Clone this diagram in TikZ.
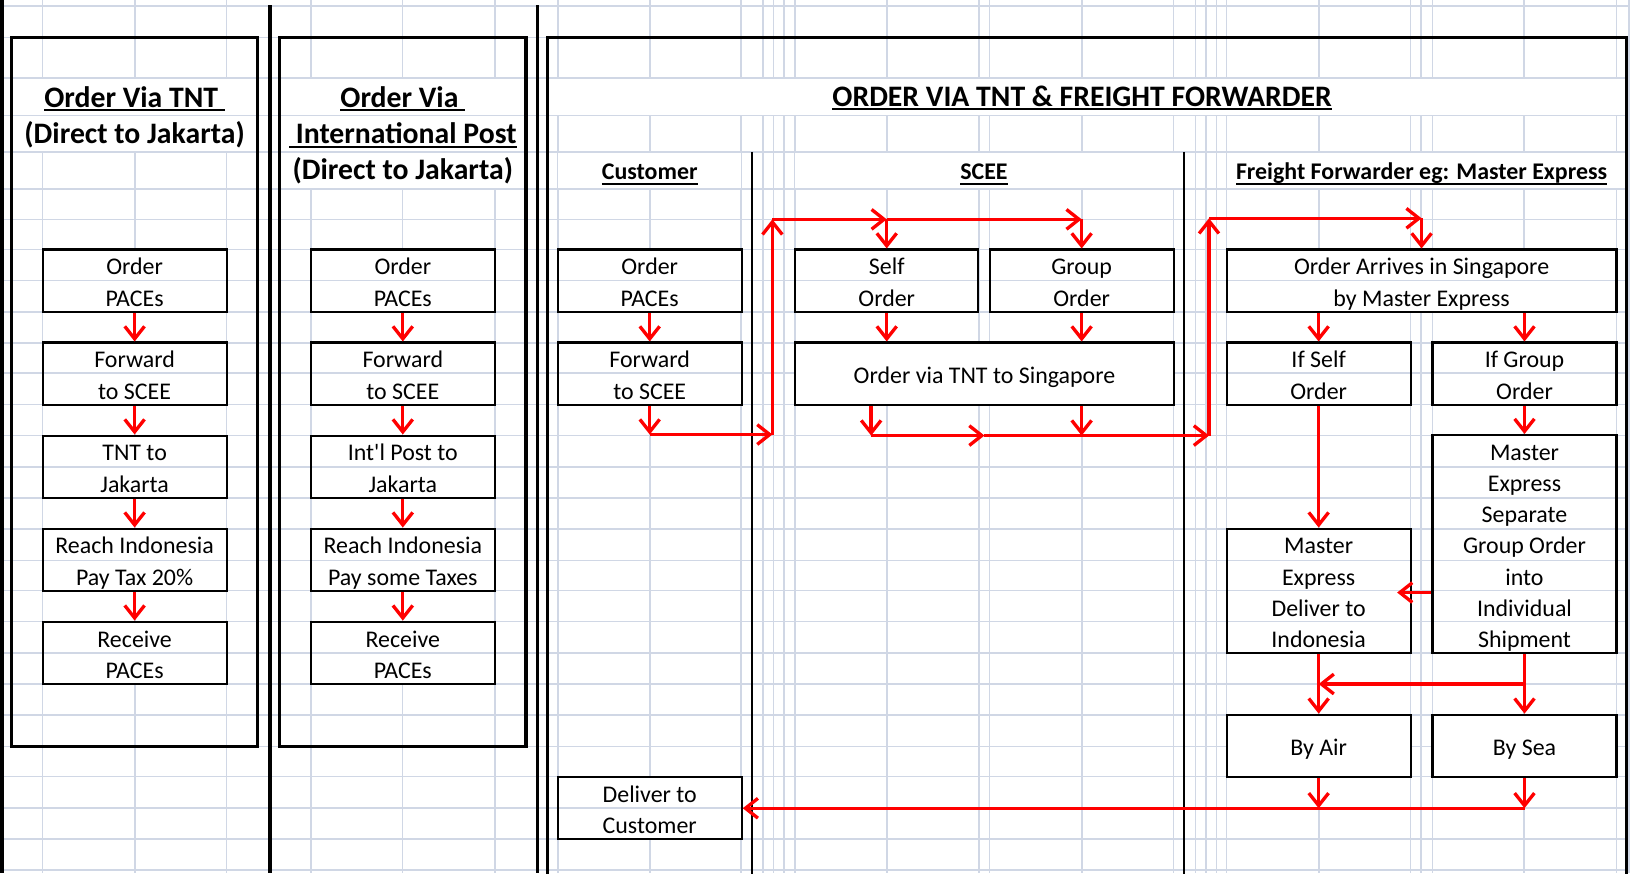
\documentclass[tikz,border=0pt]{standalone}
\usepackage{fontspec}
\setmainfont{Carlito}
\newfontfamily\rawfont{Carlito}
\usetikzlibrary{arrows.meta}
\pgfdeclarelayer{bg}\pgfdeclarelayer{wh}\pgfdeclarelayer{hg}\pgfdeclarelayer{wht}
\pgfsetlayers{bg,wh,hg,wht,main}
\definecolor{gridc}{RGB}{208,215,229}
\newcommand\xst{\rule[-2.8pt]{0pt}{15pt}}
\newsavebox\ulbox
\newcommand\myul[3]{\sbox\ulbox{#3}\rlap{\rule[-#1]{\wd\ulbox}{#2}}\usebox\ulbox}
\begin{document}
\begin{tikzpicture}[x=0.5pt,y=-0.5pt,
  box/.style={draw, line width=1pt, inner sep=0pt, align=center, font=\fontsize{11.5}{15}\selectfont, minimum width=88.5pt, minimum height=30pt},
  arr/.style={draw=red, line width=1.6pt, -{Straight Barb[length=6pt,width=9.5pt]}},
  ttl/.style={anchor=base, inner sep=0pt, font=\fontsize{14.3}{17}\selectfont\bfseries},
  hdr/.style={anchor=base, inner sep=0pt, font=\fontsize{11.5}{14}\selectfont\bfseries},
  heavy/.style={line width=1.75pt},
  frame/.style={line width=1.5pt},
  lane/.style={line width=0.75pt},
  gline/.style={draw=gridc, line width=0.75pt}]
\useasboundingbox (0,0) rectangle (1568,840);
\begin{pgfonlayer}{bg}
\fill[white] (0,0) rectangle (1568,840);
\foreach \gx in {41,130,218,299,387,476,537,625,713,734,744,754,765,853,942,952,1041,1129,1150,1160,1170,1180,1269,1357,1367,1378,1466,1555,1567}
  \draw[gline] (\gx,0) -- (\gx,840);
\end{pgfonlayer}
\begin{pgfonlayer}{hg}
\foreach \gy in {6,36,75,111,146,182,211,240,270,300,330,359,389,419,449,479,509,539,568,598,628,658,688,718,747,777,807,837}
  \draw[gline] (0,\gy) -- (1568,\gy);
\end{pgfonlayer}

% structure lines
\draw[line width=2pt] (2,0) -- (2,840);
\draw[heavy] (260,5) -- (260,840);
\draw[heavy] (517,5) -- (517,840);
\draw[frame] (11,36) rectangle (248,718);
\draw[frame] (269,36) rectangle (506,718);
\draw[frame] (527,845) -- (527,36) -- (1565,36) -- (1565,845);
\draw[lane] (723.5,146) -- (723.5,845);
\draw[lane] (1139,146) -- (1139,845);

% titles
\node[ttl] (t1a) at (129.5,103) {\myul{2.1pt}{1.1pt}{Order Via TNT\ }};
\node[ttl] (t1b) at (129.5,138) {(Direct to Jakarta)};
\node[ttl] (t2a) at (387.5,103) {\myul{2.1pt}{1.1pt}{Order Via\ }};
\node[ttl] (t2b) at (387.5,138.5) {\myul{2.1pt}{1.1pt}{\ International Post}};
\node[ttl] (t2c) at (387.5,173) {(Direct to Jakarta)};
\node[ttl] (t3) at (1041,102) {\myul{2.1pt}{1.1pt}{ORDER VIA TNT \& FREIGHT FORWARDER}};
\node[hdr] (h1) at (625,173) {\myul{2.4pt}{0.9pt}{Customer}};
\node[hdr] (h2) at (946.5,173) {\myul{2.4pt}{0.9pt}{SCEE}};
\node[hdr] (h3) at (1367.5,173) {\myul{2.4pt}{0.9pt}{Freight Forwarder eg: Master Express}};

% column 1
\node[box] (a1) at (129.5,270) {\xst Order\\\xst PACEs};
\node[box] (a2) at (129.5,359.5) {\xst Forward\\\xst to SCEE};
\node[box] (a3) at (129.5,449) {\xst TNT to\\\xst Jakarta};
\node[box] (a4) at (129.5,538.5) {\xst Reach Indonesia\\\xst Pay Tax 20\%};
\node[box] (a5) at (129.5,628) {\xst Receive\\\xst PACEs};
% column 2
\node[box] (b1) at (387.5,270) {\xst Order\\\xst PACEs};
\node[box] (b2) at (387.5,359.5) {\xst Forward\\\xst to SCEE};
\node[box] (b3) at (387.5,449) {\xst Int{\rawfont'}l Post to\\\xst Jakarta};
\node[box] (b4) at (387.5,538.5) {\xst Reach Indonesia\\\xst Pay some Taxes};
\node[box] (b5) at (387.5,628) {\xst Receive\\\xst PACEs};
% customer
\node[box] (c1) at (625,270) {\xst Order\\\xst PACEs};
\node[box] (c2) at (625,359.5) {\xst Forward\\\xst to SCEE};
\node[box] (c3) at (625,777.5) {\xst Deliver to\\\xst Customer};
% SCEE
\node[box, minimum width=88pt] (s1) at (853,270) {\xst Self\\\xst Order};
\node[box] (s2) at (1040.5,270) {\xst Group\\\xst Order};
\node[box, minimum width=182pt] (s3) at (947,359.5) {\xst Order via TNT to Singapore};
% freight forwarder
\node[box, minimum width=187.5pt] (m1) at (1367.5,270) {\xst Order Arrives in Singapore\\\xst by Master Express};
\node[box] (m2) at (1268.5,359.5) {\xst If Self\\\xst Order};
\node[box] (m3) at (1466.5,359.5) {\xst If Group\\\xst Order};
\node[box, minimum height=104.5pt] (m4) at (1466.5,523.5) {\xst Master\\\xst Express\\\xst Separate\\\xst Group Order\\\xst into\\\xst Individual\\\xst Shipment};
\node[box, minimum height=59.5pt] (m5) at (1268.5,568.5) {\xst Master\\\xst Express\\\xst Deliver to\\\xst Indonesia};
\node[box] (m6) at (1268.5,717.5) {\xst By Air};
\node[box] (m7) at (1466.5,717.5) {\xst By Sea};

% whiteouts of merged cells
\begin{pgfonlayer}{wh}
\fill[white] (11,75) rectangle (248,146);
\fill[white] (269,75) rectangle (506,182);
\fill[white] (527,75) rectangle (1565,111);
\fill[white] (537,146) rectangle (713,182);
\fill[white] (765,146) rectangle (1129,182);
\fill[white] (1180,146) rectangle (1555,182);
\foreach \n in {a1,a2,a3,a4,a5,b1,b2,b3,b4,b5,c1,c2,c3,s1,s2,m1,m2,m3,m4,m5}
  \fill[white] (\n.north west) rectangle (\n.south east);
\end{pgfonlayer}
\begin{pgfonlayer}{wht}
\foreach \n in {s3,m6,m7}
  \fill[white] (\n.north west) rectangle (\n.south east);
\end{pgfonlayer}

% connectors: columns 1 and 2
\foreach \p/\q in {a1/a2,a2/a3,a3/a4,a4/a5,b1/b2,b2/b3,b3/b4,b4/b5,c1/c2}
  \draw[arr] (\p.south) -- (\q.north);

% customer to SCEE
\coordinate (j1) at (625,418);
\coordinate (j2) at (743,418);
\coordinate (j3) at (743,211);
\coordinate (j4) at (853,211);
\coordinate (j5) at (1040.5,211);
\draw[arr] (c2.south) -- (j1);
\draw[arr] (j1) -- (j2);
\draw[arr] (j2) -- (j3);
\draw[arr] (j3) -- (j4);
\draw[arr] (j4) -- (j5);
\draw[arr] (j4) -- (s1.north);
\draw[arr] (j5) -- (s2.north);
\draw[arr] (s1.south) -- (s1.south |- s3.north);
\draw[arr] (s2.south) -- (s2.south |- s3.north);

% SCEE to freight forwarder
\coordinate (k2) at (838,419);
\coordinate (k3) at (947,419);
\coordinate (k4) at (1163,419);
\coordinate (k5) at (1163,210);
\coordinate (k6) at (1367.5,210);
\draw[arr] (s3.south -| k2) -- (k2);
\draw[arr] (k2) -- (k3);
\draw[arr] (k3) -- (k4);
\draw[arr] (s3.south -| s2.south) -- (s2.south |- k2);
\draw[arr] (k4) -- (k5);
\draw[arr] (k5) -- (k6);
\draw[arr] (k6) -- (m1.north);

% freight forwarder
\draw[arr] (m1.south -| m2.north) -- (m2.north);
\draw[arr] (m1.south -| m3.north) -- (m3.north);
\draw[arr] (m2.south) -- (m5.north);
\draw[arr] (m3.south) -- (m4.north);
\coordinate (t1) at (1344,570);
\draw[arr] (m4.west |- t1) -- (t1);
\draw[arr] (m5.south) -- (m6.north);
\draw[arr] (m4.south) -- (m7.north);
\coordinate (q1) at (1466.5,658);
\coordinate (q2) at (1268.5,658);
\draw[arr] (q1) -- (q2);
\coordinate (u1) at (1268.5,777.5);
\coordinate (u2) at (1466.5,777.5);
\draw[arr] (m6.south) -- (u1);
\draw[arr] (m7.south) -- (u2);
\draw[arr] (u2) -- (c3.east);
\end{tikzpicture}
\end{document}
